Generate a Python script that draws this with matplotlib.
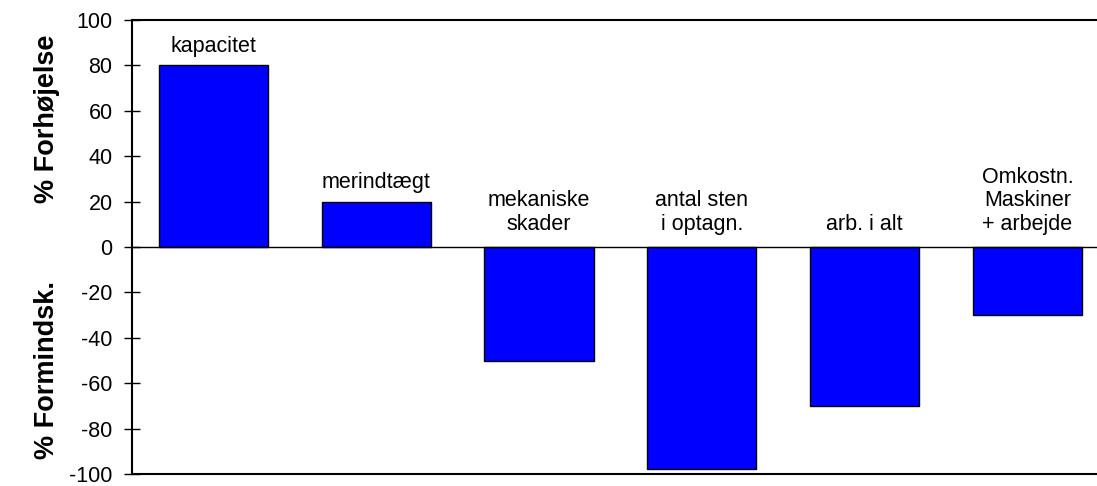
import matplotlib.pyplot as plt
import numpy as np

plt.rcParams['font.family'] = ['Liberation Sans', 'DejaVu Sans']
plt.rcParams['axes.unicode_minus'] = False

categories = ['kapacitet', 'merindtægt', 'mekaniske\nskader', 'antal sten\ni optagn.',
              'arb. i alt', 'Omkostn.\nMaskiner\n+ arbejde']
values = [80, 20, -50, -98, -70, -30]
yticks = [100, 80, 60, 40, 20, 0, -20, -40, -60, -80, -100]

fig = plt.figure(figsize=(10.97, 4.86), dpi=100)
ax = fig.add_axes([0.1203, 0.0247, 0.8906, 0.934])

x = np.arange(len(values))
ax.bar(x, values, width=0.67, color='#0000ff', edgecolor='black', linewidth=1)
ax.axhline(0, color='black', linewidth=1)

# labels sit above the bar top, or above the zero line for negative bars
for xi, v, lab in zip(x, values, categories):
    pad = 6 if v > 0 else 9
    ax.annotate(lab, (xi, max(v, 0)), xytext=(0, pad), textcoords='offset points',
                ha='center', va='bottom', fontsize=15.5, linespacing=1.15)

ax.set_xlim(-0.5, 5.5)
ax.set_ylim(-100, 100)
ax.set_yticks(yticks)
ax.set_xticks([])
ax.tick_params(axis='y', direction='inout', length=12, width=1, labelsize=15.5, pad=8)
ax.spines['right'].set_visible(False)
for s in ['left', 'top', 'bottom']:
    ax.spines[s].set_linewidth(1.5)

fig.text(0.043, 0.755, '% Forhøjelse', rotation=90, ha='center', va='center',
         fontsize=19.5, fontweight='bold')
fig.text(0.043, 0.238, '% Formindsk.', rotation=90, ha='center', va='center',
         fontsize=19.5, fontweight='bold')

fig.savefig('out.png', dpi=100)
